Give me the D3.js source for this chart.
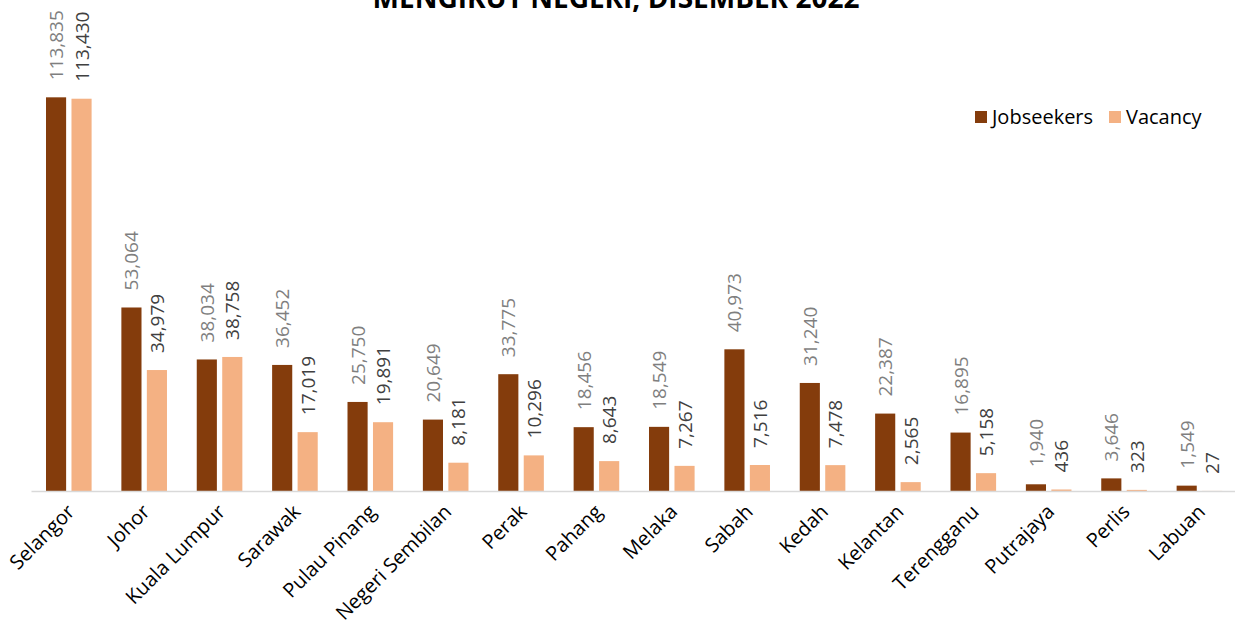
<!DOCTYPE html>
<html>
<head>
<meta charset="utf-8">
<script src="https://cdn.jsdelivr.net/npm/d3@7"></script>
<style>
  html, body { margin: 0; padding: 0; background: #fff; }
  svg { display: block; font-family: "Open Sans", sans-serif; }
</style>
</head>
<body>
<svg id="chart" width="1235" height="627"></svg>
<script>
// chart data
const states = ["Selangor", "Johor", "Kuala Lumpur", "Sarawak", "Pulau Pinang", "Negeri Sembilan",
  "Perak", "Pahang", "Melaka", "Sabah", "Kedah", "Kelantan", "Terengganu", "Putrajaya", "Perlis", "Labuan"];
const jobseekers = [113835, 53064, 38034, 36452, 25750, 20649, 33775, 18456, 18549, 40973, 31240, 22387, 16895, 1940, 3646, 1549];
const vacancy = [113430, 34979, 38758, 17019, 19891, 8181, 10296, 8643, 7267, 7516, 7478, 2565, 5158, 436, 323, 27];
const seriesNames = ["Jobseekers", "Vacancy"];
const titleText = "MENGIKUT NEGERI, DISEMBER 2022";

function createChart() {
  const svg = d3.select("#chart");

  //Layout
  const chart = {};
  chart.left = 31;
  chart.right = 1237;
  chart.baseline = 491;
  chart.top = 76;
  chart.colors = { Jobseekers: "#843C0C", Vacancy: "#F4B183" };
  chart.labelColors = { Jobseekers: "#7F7F7F", Vacancy: "#404040" };

  const values = { Jobseekers: jobseekers, Vacancy: vacancy };

  //Scales
  const x0 = d3.scaleBand().domain(states).range([chart.left, chart.right]);
  const x1 = d3.scaleBand().domain(seriesNames).range([15, 60.6]).paddingInner(0.21);
  const y = d3.scaleLinear().domain([0, 120000]).range([chart.baseline, chart.top]);

  //Title (its upper part sits above the picture, as in the original)
  svg.append("text")
    .attr("x", 616)
    .attr("y", 8)
    .attr("text-anchor", "middle")
    .attr("font-size", 28)
    .attr("font-weight", "bold")
    .attr("fill", "#000")
    .text(titleText);

  //Bars
  const groups = svg.append("g")
    .selectAll("g")
    .data(states)
    .join("g")
    .attr("transform", (d) => "translate(" + x0(d) + ",0)");

  const rows = (d, i) => seriesNames.map((s) => ({ state: d, series: s, value: values[s][i] }));

  groups.selectAll("rect")
    .data(rows)
    .join("rect")
    .attr("x", (d) => x1(d.series))
    .attr("width", x1.bandwidth())
    .attr("y", (d) => y(d.value))
    .attr("height", (d) => chart.baseline - y(d.value))
    .attr("fill", (d) => chart.colors[d.series]);

  //Value labels, rotated
  groups.selectAll("text.value")
    .data(rows)
    .join("text")
    .attr("class", "value")
    .attr("transform", (d) =>
      "translate(" + (x1(d.series) + x1.bandwidth() / 2 + 7) + "," + (y(d.value) - 17) + ") rotate(-90)")
    .attr("font-size", 19)
    .attr("fill", (d) => chart.labelColors[d.series])
    .text((d) => d3.format(",")(d.value));

  //Axis
  const axis = svg.append("g")
    .attr("transform", "translate(0," + chart.baseline + ")")
    .call(d3.axisBottom(x0).tickSize(0).tickSizeOuter(0).tickPadding(0));

  axis.select(".domain")
    .attr("stroke", "#D9D9D9")
    .attr("stroke-width", 1.5);

  axis.selectAll(".tick text")
    .attr("font-family", "Open Sans, sans-serif")
    .attr("font-size", 20)
    .attr("fill", "#000")
    .attr("text-anchor", "end")
    .attr("dy", 0)
    .attr("transform", "translate(7,22) rotate(-45)");

  //Legend
  const legend = svg.append("g").attr("transform", "translate(975,117)");
  const legendX = { Jobseekers: 0, Vacancy: 134 };
  seriesNames.forEach((s) => {
    const item = legend.append("g").attr("transform", "translate(" + legendX[s] + ",0)");
    item.append("rect")
      .attr("x", 0)
      .attr("y", -6)
      .attr("width", 12)
      .attr("height", 12)
      .attr("fill", chart.colors[s]);
    item.append("text")
      .attr("x", 17)
      .attr("y", 7)
      .attr("font-size", 20)
      .attr("fill", "#000")
      .text(s);
  });
}

createChart();
</script>
</body>
</html>
